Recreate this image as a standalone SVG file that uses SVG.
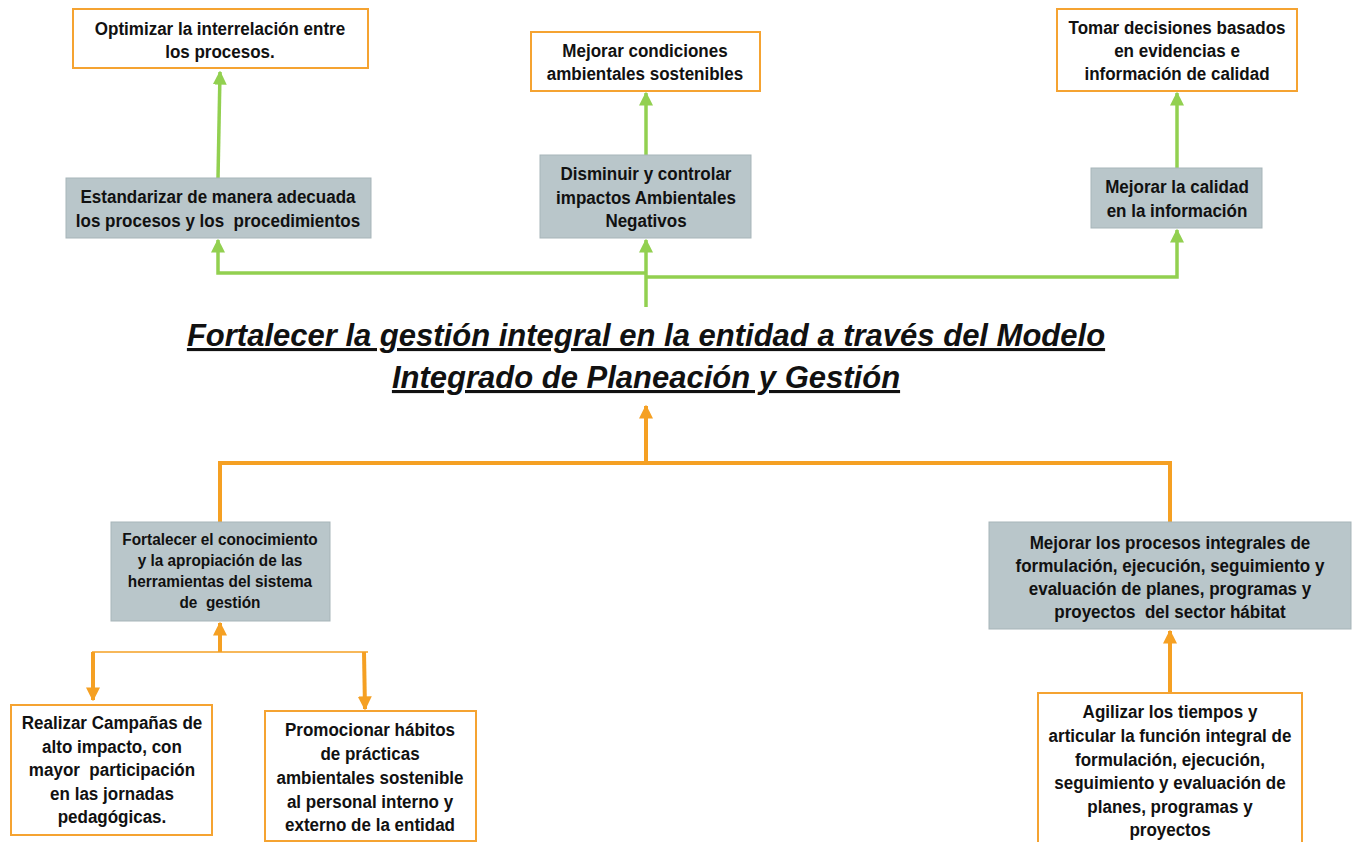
<svg xmlns="http://www.w3.org/2000/svg" width="1358" height="842" viewBox="0 0 1358 842">
<style>
.ob{fill:#fff;stroke:#f5a331;stroke-width:2}
.gb{fill:#b9c6ca;stroke:#a7b5b9;stroke-width:1}
.t{font-family:"Liberation Sans",Arial,sans-serif;font-weight:bold;font-size:18px;fill:#111;text-anchor:middle;transform-box:fill-box;transform-origin:center;transform:scaleX(.945)}
.ts{font-size:16px;transform:scaleX(.96)}
.g{stroke:#92d050;stroke-width:3.5;fill:none}
.o{stroke:#f5a023;stroke-width:4;fill:none}
.ot{stroke:#f5a023;stroke-width:1.5;fill:none}
.title{font-family:"Liberation Sans",Arial,sans-serif;font-weight:bold;font-style:italic;font-size:31px;fill:#111;text-anchor:middle;text-decoration:underline}
</style>
<defs>
<marker id="ag" viewBox="0 0 10 10" refX="9" refY="5" markerWidth="4" markerHeight="4" markerUnits="strokeWidth" orient="auto"><path d="M0,0L10,5L0,10z" fill="#92d050"/></marker>
<marker id="ao" viewBox="0 0 10 10" refX="9" refY="5" markerWidth="3.5" markerHeight="3.5" markerUnits="strokeWidth" orient="auto"><path d="M0,0L10,5L0,10z" fill="#f5a023"/></marker>
</defs>
<rect width="1358" height="842" fill="#fff"/>
<g id="connectors">
<path class="g" d="M218,178 L220,72" marker-end="url(#ag)"/>
<path class="g" d="M646,155 L646,93" marker-end="url(#ag)"/>
<path class="g" d="M1177,168 L1177,93" marker-end="url(#ag)"/>
<path class="g" d="M646,273 L218,273 L218,240" marker-end="url(#ag)"/>
<path class="g" d="M646,277 L1177,277 L1177,230" marker-end="url(#ag)"/>
<path class="g" d="M646,307 L646,240" marker-end="url(#ag)"/>
<path class="o" d="M646,463 L646,406" marker-end="url(#ao)"/>
<path class="o" d="M220,522 L220,463 L1170,463 L1170,522"/>
<path class="o" d="M220,652 L220,623" marker-end="url(#ao)"/>
<path class="ot" d="M92,652 L368,652"/>
<path class="o" d="M93,652 L93,700" marker-end="url(#ao)"/>
<path class="o" d="M364,652 L365,709" marker-end="url(#ao)"/>
<path class="o" d="M1170,693 L1170,631" marker-end="url(#ao)"/>
</g>
<g id="n-optimizar"><rect class="ob" x="73" y="9" width="295" height="59"/>
<text class="t" x="220" y="35">Optimizar la interrelación entre</text><text class="t" x="220" y="58">los procesos.</text></g>
<g id="n-mejorar-cond"><rect class="ob" x="531" y="32" width="229" height="59"/>
<text class="t" x="645" y="57">Mejorar condiciones</text><text class="t" x="645" y="80">ambientales sostenibles</text></g>
<g id="n-tomar"><rect class="ob" x="1057" y="9" width="240" height="82"/>
<text class="t" x="1177" y="34">Tomar decisiones basados</text><text class="t" x="1177" y="57">en evidencias e</text><text class="t" x="1177" y="80">información de calidad</text></g>
<g id="n-estandarizar"><rect class="gb" x="66" y="178" width="305" height="60"/>
<text class="t" x="218" y="203">Estandarizar de manera adecuada</text><text class="t" x="218" y="227">los procesos y los &#160;procedimientos</text></g>
<g id="n-disminuir"><rect class="gb" x="540" y="155" width="211" height="83"/>
<text class="t" x="646" y="180">Disminuir y controlar</text><text class="t" x="646" y="204">impactos Ambientales</text><text class="t" x="646" y="227">Negativos</text></g>
<g id="n-calidad"><rect class="gb" x="1091" y="168" width="171" height="60"/>
<text class="t" x="1177" y="193">Mejorar la calidad</text><text class="t" x="1177" y="217">en la información</text></g>
<g id="n-title">
<text class="title" x="646" y="346">Fortalecer la gestión integral en la entidad a través del Modelo</text>
<text class="title" x="646" y="388">Integrado de Planeación y Gestión</text></g>
<g id="n-conocimiento"><rect class="gb" x="111" y="522" width="219" height="99"/>
<text class="t ts" x="220" y="545">Fortalecer el conocimiento</text><text class="t ts" x="220" y="566">y la apropiación de las</text><text class="t ts" x="220" y="587">herramientas del sistema</text><text class="t ts" x="220" y="608">de &#160;gestión</text></g>
<g id="n-mejorar-proc"><rect class="gb" x="989" y="522" width="362" height="107"/>
<text class="t" x="1170" y="549">Mejorar los procesos integrales de</text><text class="t" x="1170" y="572">formulación, ejecución, seguimiento y</text><text class="t" x="1170" y="595">evaluación de planes, programas y</text><text class="t" x="1170" y="618">proyectos &#160;del sector hábitat</text></g>
<g id="n-realizar"><rect class="ob" x="11" y="705" width="201" height="130"/>
<text class="t" x="112" y="729">Realizar Campañas de</text><text class="t" x="112" y="753">alto impacto, con</text><text class="t" x="112" y="776">mayor &#160;participación</text><text class="t" x="112" y="800">en las jornadas</text><text class="t" x="112" y="823">pedagógicas.</text></g>
<g id="n-promocionar"><rect class="ob" x="265" y="711" width="211" height="130"/>
<text class="t" x="370" y="736">Promocionar hábitos</text><text class="t" x="370" y="760">de prácticas</text><text class="t" x="370" y="784">ambientales sostenible</text><text class="t" x="370" y="808">al personal interno y</text><text class="t" x="370" y="831">externo de la entidad</text></g>
<g id="n-agilizar"><rect class="ob" x="1038" y="693" width="264" height="160"/>
<text class="t" x="1170" y="718">Agilizar los tiempos y</text><text class="t" x="1170" y="742">articular la función integral de</text><text class="t" x="1170" y="766">formulación, ejecución,</text><text class="t" x="1170" y="789">seguimiento y evaluación de</text><text class="t" x="1170" y="813">planes, programas y</text><text class="t" x="1170" y="836">proyectos</text></g>
</svg>
